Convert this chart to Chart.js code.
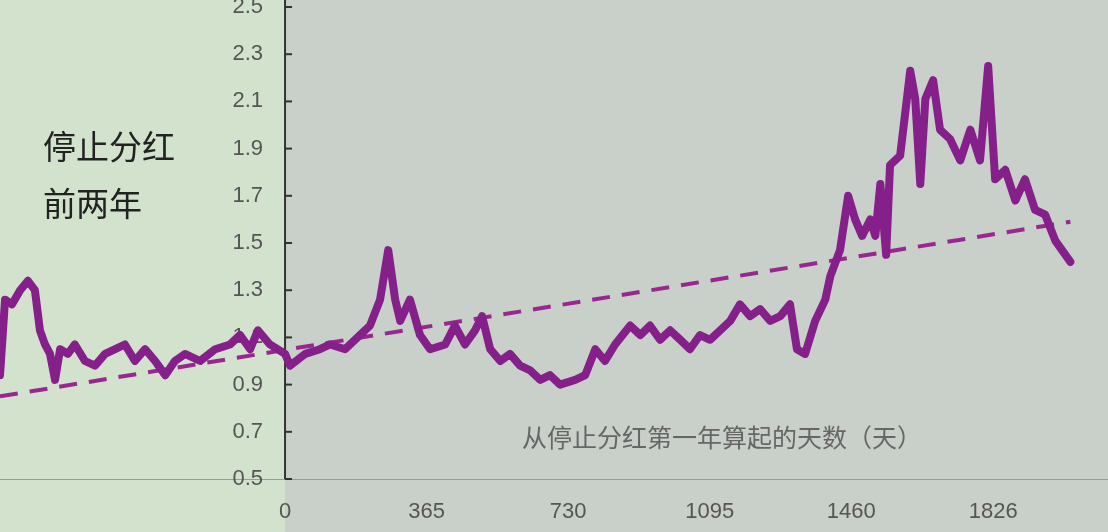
<!DOCTYPE html>
<html><head><meta charset="utf-8">
<script src="https://cdn.jsdelivr.net/npm/chart.js@4"></script>
<style>html,body{margin:0;padding:0;background:#c9cfc9}#wrap{width:1108px;height:532px}</style>
</head><body><div id="wrap"><canvas id="c"></canvas></div>
<script>
const days = [-735,-722,-704,-683,-663,-645,-632,-619,-606,-593,-580,-560,-542,-516,-490,-464,-438,-413,-387,-361,-335,-309,-284,-258,-219,-180,-142,-116,-90,-70,-39,0,13,52,90,116,155,193,219,245,266,284,297,322,348,374,413,438,464,490,508,529,555,580,606,632,658,683,709,748,774,800,825,851,890,916,941,967,993,1019,1044,1070,1096,1122,1148,1173,1199,1225,1251,1277,1302,1320,1341,1367,1393,1406,1431,1452,1470,1488,1509,1522,1535,1550,1560,1586,1612,1625,1638,1651,1671,1689,1715,1741,1767,1792,1813,1831,1857,1883,1908,1934,1960,1986,2025];
const ratio = [0.94,1.26,1.24,1.30,1.34,1.30,1.13,1.07,1.03,0.92,1.05,1.03,1.07,1.00,0.98,1.03,1.05,1.07,1.00,1.05,1.00,0.94,1.00,1.03,1.00,1.05,1.07,1.11,1.05,1.13,1.07,1.03,0.98,1.03,1.05,1.07,1.05,1.11,1.15,1.26,1.47,1.26,1.17,1.26,1.11,1.05,1.07,1.15,1.07,1.13,1.19,1.05,1.00,1.03,0.98,0.96,0.92,0.94,0.90,0.92,0.94,1.05,1.00,1.07,1.15,1.11,1.15,1.09,1.13,1.09,1.05,1.11,1.09,1.13,1.17,1.24,1.19,1.22,1.17,1.19,1.24,1.05,1.03,1.17,1.26,1.36,1.47,1.70,1.60,1.53,1.60,1.53,1.75,1.45,1.83,1.87,2.23,2.11,1.75,2.11,2.19,1.98,1.94,1.85,1.98,1.85,2.25,1.77,1.81,1.68,1.77,1.64,1.62,1.51,1.42];
const trendDays = [-735, 2025];
const trendVals = [0.85, 1.59];
const yTicks = [0.5,0.7,0.9,1.1,1.3,1.5,1.7,1.9,2.1,2.3,2.5];
const xTicks = [0,365,730,1095,1460,1826];

const decor = {
  id: 'decor',
  beforeDatasetsDraw(chart) {
    const {ctx, scales: {x, y}} = chart;
    const x0 = x.getPixelForValue(0), yb = y.getPixelForValue(0.5);
    ctx.save();
    ctx.fillStyle = '#d3e2cd';
    ctx.fillRect(0, 0, x0, chart.height);
    ctx.fillStyle = '#c9cfc9';
    ctx.fillRect(x0, 0, chart.width - x0, yb);
    ctx.strokeStyle = '#999';
    ctx.lineWidth = 1;
    ctx.beginPath(); ctx.moveTo(0, yb + 0.5); ctx.lineTo(chart.width, yb + 0.5); ctx.stroke();
    ctx.strokeStyle = '#333';
    ctx.lineWidth = 2;
    ctx.beginPath(); ctx.moveTo(x0, 0); ctx.lineTo(x0, yb); ctx.stroke();
    ctx.font = '22px "Liberation Sans", Arial';
    ctx.fillStyle = '#555';
    ctx.textAlign = 'right'; ctx.textBaseline = 'middle';
    yTicks.forEach(t => {
      const py = y.getPixelForValue(t);
      ctx.beginPath(); ctx.moveTo(x0, py); ctx.lineTo(x0 + 7, py); ctx.stroke();
      ctx.fillText(t.toFixed(1), x0 - 22, py);
    });
    ctx.textAlign = 'center';
    xTicks.forEach(t => ctx.fillText(String(t), x.getPixelForValue(t), 512));
    ctx.font = '25px "Noto Sans CJK SC"';
    ctx.fillStyle = '#666';
    ctx.textAlign = 'left';
    ctx.fillText('从停止分红第一年算起的天数（天）', 522, 437);
    ctx.font = '33px "Noto Sans CJK SC"';
    ctx.fillStyle = '#222';
    ctx.fillText('停止分红', 43, 146);
    ctx.fillText('前两年', 43, 203);
    ctx.restore();
  }
};

new Chart(document.getElementById('c'), {
  type: 'line',
  data: {
    datasets: [
      { data: days.map((d, i) => ({x: d, y: ratio[i]})), borderColor: '#85208a', borderWidth: 8, pointRadius: 0, tension: 0, borderJoinStyle: 'round', borderCapStyle: 'round' },
      { data: trendDays.map((d, i) => ({x: d, y: trendVals[i]})), borderColor: '#98288f', borderWidth: 4, borderDash: [18, 12], pointRadius: 0 }
    ]
  },
  options: {
    responsive: true, maintainAspectRatio: false, animation: false,
    layout: { padding: { top: 7, bottom: 53, left: 0, right: 0 } },
    plugins: { legend: { display: false }, tooltip: { enabled: false } },
    scales: {
      x: { type: 'linear', min: -735, max: 2122, display: false },
      y: { min: 0.5, max: 2.5, display: false }
    }
  },
  plugins: [decor]
});
</script></body></html>
